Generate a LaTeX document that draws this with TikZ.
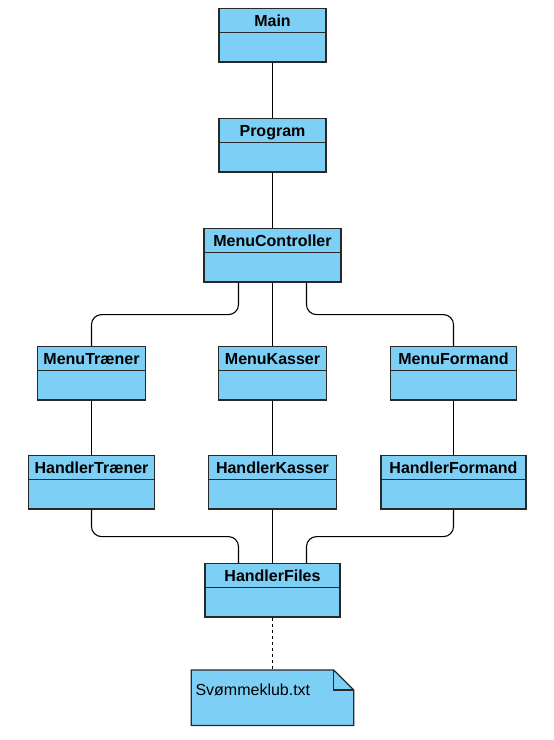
\documentclass[tikz,border=0pt]{standalone}
\usepackage{fontspec}
\setmainfont{Liberation Sans}
\usetikzlibrary{shapes.multipart,backgrounds}
\definecolor{klasseblaa}{RGB}{125,207,245}
\definecolor{kant}{RGB}{40,40,40}

\begin{document}
\begin{tikzpicture}[x=1pt,y=-1pt,
  klasse/.style={draw=kant, line width=1.2pt, fill=klasseblaa, anchor=north,
    rectangle split, rectangle split parts=2, inner ysep=0pt, inner xsep=2pt,
    font=\fontsize{16}{19}\selectfont\bfseries,
    execute at begin node={\rule[-6pt]{0pt}{23pt}},
    rectangle split empty part height=28pt, rectangle split empty part depth=0pt},
  notat/.style={anchor=north, font=\fontsize{16}{19}\selectfont, text width=154pt,
    align=left, inner xsep=4pt, inner ysep=7pt, text height=18.5pt, text depth=22.5pt},
  forbind/.style={draw=black, line width=1.1pt, rounded corners=10pt}]
\useasboundingbox (0,0) rectangle (554,740);
\node[klasse, minimum width=107pt] (main) at (272.5,8) {Main};
\node[klasse, minimum width=107pt] (prog) at (272.5,118) {Program};
\node[klasse, minimum width=137pt] (mc) at (272.5,228) {MenuController};
\node[klasse, minimum width=108pt] (mt) at (91.5,346) {MenuTræner};
\node[klasse, minimum width=108pt] (mk) at (272.5,346) {MenuKasser};
\node[klasse, minimum width=126pt] (mf) at (453.5,346) {MenuFormand};
\node[klasse, minimum width=126pt] (ht) at (91.5,455) {HandlerTræner};
\node[klasse, minimum width=128pt] (hk) at (272.5,455) {HandlerKasser};
\node[klasse, minimum width=145pt] (hf) at (453.5,455) {HandlerFormand};
\node[klasse, minimum width=135pt] (fil) at (272.5,563) {HandlerFiles};
\node[notat] (txt) at (272.5,670) {Svømmeklub.txt};
\path[forbind] (main.south) -- (prog.north);
\path[forbind] (prog.south) -- (mc.north);
\path[forbind] (mc.south) -- (mk.north);
\path[forbind] ([xshift=-34pt]mc.south) -- ++(0,32) -| (mt.north);
\path[forbind] ([xshift=34pt]mc.south) -- ++(0,32) -| (mf.north);
\path[forbind] (mt.south) -- (ht.north);
\path[forbind] (mk.south) -- (hk.north);
\path[forbind] (mf.south) -- (hf.north);
\path[forbind] (ht.south) -- ++(0,27) -| ([xshift=-34pt]fil.north);
\path[forbind] (hk.south) -- (fil.north);
\path[forbind] (hf.south) -- ++(0,27) -| ([xshift=34pt]fil.north);
\path[forbind, dash pattern=on 3pt off 3pt] (fil.south) -- (txt.north);
% the note shape with its folded corner
\begin{scope}[on background layer]
\fill[white] (0,0) rectangle (554,740);
\path[draw=kant, line width=1.2pt, fill=klasseblaa] (txt.north west) -- ([xshift=-20pt]txt.north east)
  -- ([yshift=-20pt]txt.north east) -- (txt.south east) -- (txt.south west) -- cycle;
\path[draw=kant, line width=1.2pt] ([xshift=-20pt]txt.north east) |- ([yshift=-20pt]txt.north east);
\end{scope}
\end{tikzpicture}
\end{document}
